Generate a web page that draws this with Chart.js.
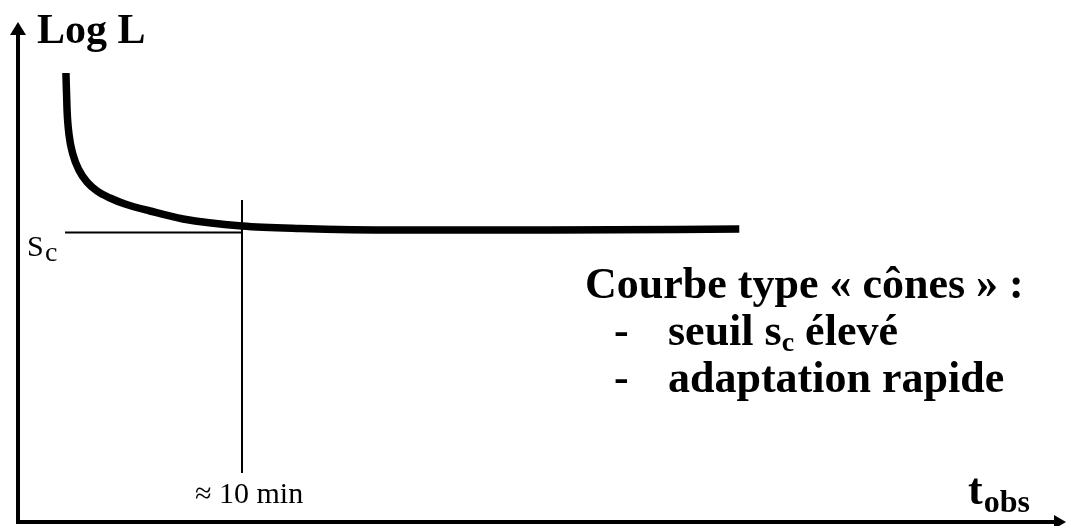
<!DOCTYPE html>
<html>
<head>
<meta charset="utf-8">
<script src="https://cdn.jsdelivr.net/npm/chart.js@4"></script>
<style>
  html, body { margin: 0; padding: 0; background: #fff; }
  #chart { display: block; }
</style>
</head>
<body>
<canvas id="chart" width="1068" height="526"></canvas>
<script>
// time in minutes (x) and log luminance threshold, arbitrary units (y)
const curveT = [2.14, 2.19, 2.28, 2.46, 2.72, 3.08, 3.53, 4.11, 4.78, 5.89, 7.37, 10.0, 12.6, 17.05, 23.75, 32.2];
const curveLogL = [8.98, 8.24, 7.74, 7.34, 7.04, 6.80, 6.62, 6.48, 6.36, 6.22, 6.06, 5.92, 5.87, 5.84, 5.84, 5.86];

const scLevel = 5.79;          // cone threshold s_c
const scFrom = 2.1;            // where the s_c guide line starts
const tMarker = 10;            // ≈ 10 min
const tMarkerRange = [0.98, 6.44];

const xLabel = 'obs';
const yLabel = 'Log L';
const noteLines = ['Courbe type « cônes » :', 'seuil s', ' élevé', 'adaptation rapide'];

const toPoints = (xs, ys) => xs.map((x, i) => ({ x: x, y: ys[i] }));

// draws arrows and all the annotation text
const annotations = {
    id: 'annotations',
    afterDraw(chart) {
        const ctx = chart.ctx;
        const xs = chart.scales.x;
        const ys = chart.scales.y;
        const x0 = xs.getPixelForValue(0);
        const y0 = ys.getPixelForValue(0);
        const top = chart.chartArea.top;
        const right = chart.chartArea.right;

        ctx.save();
        ctx.strokeStyle = '#000';
        ctx.fillStyle = '#000';
        ctx.lineWidth = 4;

        // y axis
        ctx.beginPath();
        ctx.moveTo(x0, y0 + 2);
        ctx.lineTo(x0, top + 10);
        ctx.stroke();
        ctx.beginPath();
        ctx.moveTo(x0, top);
        ctx.lineTo(x0 - 8, top + 13);
        ctx.lineTo(x0 + 8, top + 13);
        ctx.closePath();
        ctx.fill();

        // x axis
        ctx.beginPath();
        ctx.moveTo(x0 - 2, y0);
        ctx.lineTo(right - 10, y0);
        ctx.stroke();
        ctx.beginPath();
        ctx.moveTo(right, y0);
        ctx.lineTo(right - 12, y0 - 7);
        ctx.lineTo(right - 12, y0 + 7);
        ctx.closePath();
        ctx.fill();

        ctx.textBaseline = 'alphabetic';
        ctx.textAlign = 'left';

        // axis titles
        ctx.font = 'bold 42px "Liberation Serif"';
        ctx.fillText(yLabel, 37, 43);
        ctx.font = 'bold 44px "Liberation Serif"';
        ctx.fillText('t', 968, 504);
        const wt = ctx.measureText('t').width;
        ctx.font = 'bold 32px "Liberation Serif"';
        ctx.fillText(xLabel, 968 + wt + 1, 512);

        // s_c label
        ctx.font = '30px "Liberation Serif"';
        ctx.fillText('S', 27, 256);
        ctx.font = '28px "Liberation Serif"';
        ctx.fillText('c', 45, 261);

        // ≈ 10 min label
        ctx.font = '30px "Liberation Serif"';
        ctx.fillText('≈ 10 min', 195, 503);

        // note block
        ctx.font = 'bold 44px "Liberation Serif"';
        ctx.fillText(noteLines[0], 585, 298);
        ctx.fillText('-', 614, 345);
        ctx.fillText('-', 614, 392);
        ctx.fillText(noteLines[1], 668, 345);
        const w1 = ctx.measureText(noteLines[1]).width;
        ctx.font = 'bold 28px "Liberation Serif"';
        ctx.fillText('c', 668 + w1, 351);
        const wc = ctx.measureText('c').width;
        ctx.font = 'bold 44px "Liberation Serif"';
        ctx.fillText(noteLines[2], 668 + w1 + wc, 345);
        ctx.fillText(noteLines[3], 668, 392);
        ctx.restore();
    }
};

new Chart(document.getElementById('chart'), {
    type: 'scatter',
    data: {
        datasets: [
            {
                label: 'Courbe cônes',
                data: toPoints(curveT, curveLogL),
                showLine: true,
                borderColor: '#000',
                borderWidth: 7.5,
                cubicInterpolationMode: 'monotone',
                pointRadius: 0,
            },
            {
                label: 's_c',
                data: [{ x: scFrom, y: scLevel }, { x: tMarker, y: scLevel }],
                showLine: true,
                borderColor: '#000',
                borderWidth: 2,
                pointRadius: 0,
            },
            {
                label: '10 min',
                data: [{ x: tMarker, y: tMarkerRange[0] }, { x: tMarker, y: tMarkerRange[1] }],
                showLine: true,
                borderColor: '#000',
                borderWidth: 2,
                pointRadius: 0,
            },
        ],
    },
    options: {
        responsive: false,
        animation: false,
        layout: { padding: { left: 18, right: 2, top: 22, bottom: 4 } },
        plugins: {
            legend: { display: false },
            tooltip: { enabled: false },
        },
        scales: {
            x: { type: 'linear', display: false, min: 0, max: (1066 - 18) / 22.4 },
            y: { type: 'linear', display: false, min: 0, max: 10 },
        },
    },
    plugins: [annotations],
});
</script>
</body>
</html>
